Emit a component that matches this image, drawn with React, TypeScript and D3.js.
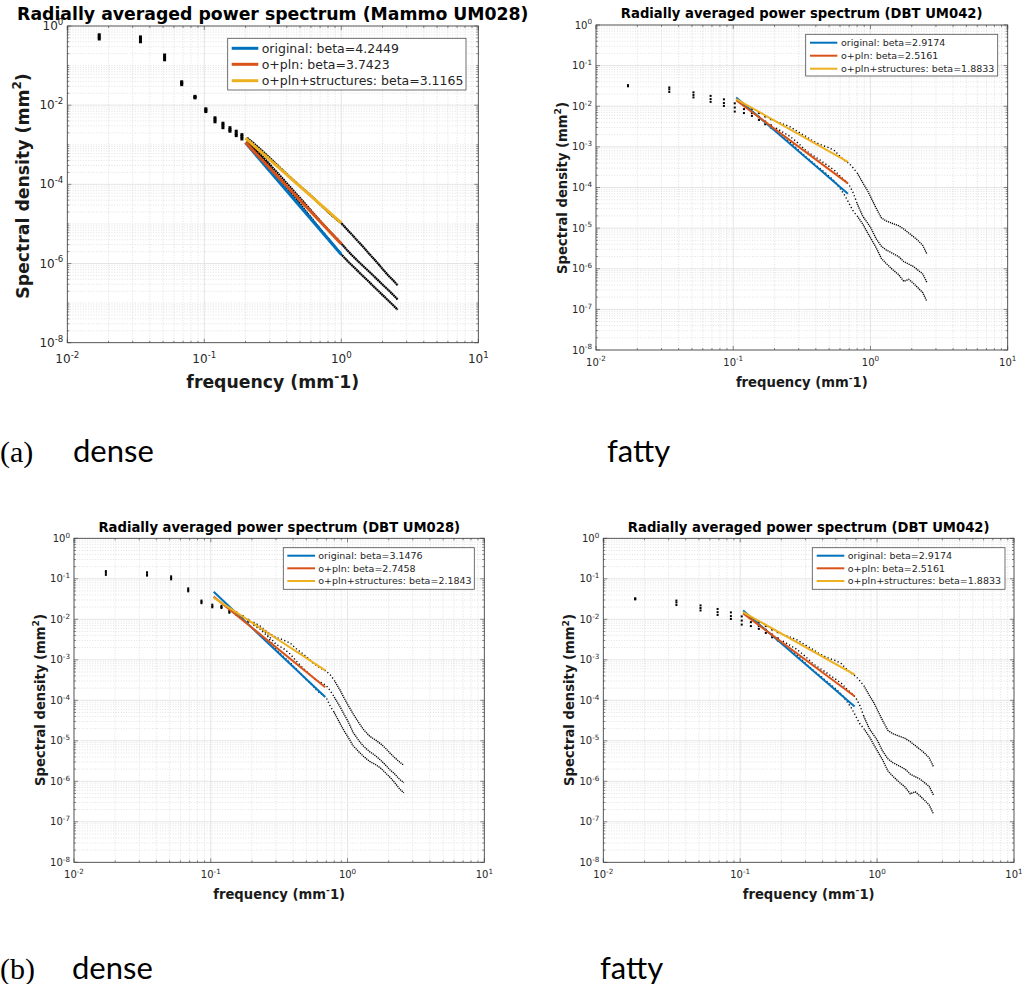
import React from 'react';
import * as d3 from 'd3';

// ---------- DATA ----------
const FREQ = [0.0171, 0.0342, 0.0513, 0.0684, 0.0855, 0.1026, 0.1197, 0.1368, 0.1539, 0.171, 0.1881, 0.2052,
  0.23, 0.26, 0.30, 0.34, 0.38, 0.42, 0.46, 0.50, 0.55, 0.60, 0.65, 0.70, 0.75, 0.80, 0.88, 0.95, 1.0,
  1.1, 1.2, 1.3, 1.45, 1.6, 1.75, 1.9, 2.05, 2.2, 2.4, 2.58];

// Mammo UM028
const MAMMO028_ORIG = [0.47, 0.40, 0.14, 0.033, 0.0153, 0.0069, 0.0038, 0.0027, 0.0022, 0.0017, 0.0014, 0.00115,
  7.8e-4, 4.9e-4, 2.8e-4, 1.65e-4, 1.02e-4, 6.6e-5, 4.5e-5, 3.2e-5, 2.1e-5, 1.45e-5, 1.02e-5, 7.5e-6, 5.6e-6, 4.3e-6, 2.9e-6, 2.1e-6, 1.7e-6,
  1.2e-6, 8.9e-7, 6.8e-7, 4.7e-7, 3.4e-7, 2.5e-7, 1.9e-7, 1.48e-7, 1.17e-7, 8.7e-8, 6.8e-8];
const MAMMO028_PLN = [0.53, 0.46, 0.16, 0.036, 0.016, 0.0075, 0.0043, 0.0031, 0.0024, 0.0019, 0.0016, 0.00125,
  8.5e-4, 5.5e-4, 3.2e-4, 2.0e-4, 1.3e-4, 8.8e-5, 6.2e-5, 4.5e-5, 3.1e-5, 2.2e-5, 1.6e-5, 1.2e-5, 9.2e-6, 7.2e-6, 5.1e-6, 3.9e-6, 3.2e-6,
  2.2e-6, 1.6e-6, 1.22e-6, 8.5e-7, 6.2e-7, 4.6e-7, 3.5e-7, 2.7e-7, 2.15e-7, 1.6e-7, 1.23e-7];
const MAMMO028_STRUCT = [0.60, 0.53, 0.185, 0.039, 0.0167, 0.0081, 0.0048, 0.0035, 0.0027, 0.0022, 0.0018, 0.0015,
  1.08e-3, 7.4e-4, 4.7e-4, 3.1e-4, 2.15e-4, 1.55e-4, 1.17e-4, 9.0e-5, 6.8e-5, 5.2e-5, 4.0e-5, 3.1e-5, 2.5e-5, 2.0e-5, 1.5e-5, 1.2e-5, 1.05e-5,
  7.3e-6, 5.3e-6, 3.9e-6, 2.6e-6, 1.75e-6, 1.25e-6, 9.0e-7, 6.6e-7, 5.0e-7, 3.7e-7, 2.8e-7];
const MAMMO028_FIT_F = [0.2, 1.0];
const MAMMO028_FIT_ORIG = [1.12e-3, 1.7e-6];
const MAMMO028_FIT_PLN = [1.15e-3, 3.13e-6];
const MAMMO028_FIT_STRUCT = [1.47e-3, 1.06e-5];
const MAMMO028_BETA = ['4.2449', '3.7423', '3.1165'];

// DBT UM042
const DBT042_ORIG = [0.031, 0.0225, 0.0165, 0.0128, 0.0102, 0.0074, 0.0068, 0.0058, 0.0046, 0.0036, 0.0030, 0.0025,
  0.0019, 0.0013, 8.2e-4, 5.6e-4, 4.1e-4, 3.1e-4, 2.4e-4, 1.9e-4, 1.4e-4, 9.5e-5, 6.4e-5, 4.0e-5, 2.6e-5, 2.0e-5, 1.25e-5, 7.8e-6, 5.8e-6,
  3.3e-6, 1.8e-6, 1.35e-6, 9.5e-7, 7.2e-7, 4.9e-7, 5.5e-7, 4.4e-7, 3.5e-7, 2.6e-7, 1.57e-7];
const DBT042_PLN = [0.032, 0.026, 0.019, 0.015, 0.012, 0.0093, 0.0085, 0.0068, 0.0055, 0.0042, 0.0034, 0.0029,
  0.0023, 0.0018, 0.0012, 8.0e-4, 6.2e-4, 5.0e-4, 4.0e-4, 3.3e-4, 2.6e-4, 1.9e-4, 1.5e-4, 1.15e-4, 7.3e-5, 4.0e-5, 1.95e-5, 1.35e-5, 1.05e-5,
  5.5e-6, 3.6e-6, 2.9e-6, 2.4e-6, 2.0e-6, 1.5e-6, 1.3e-6, 1.14e-6, 9.5e-7, 7.5e-7, 4.6e-7];
const DBT042_STRUCT = [0.033, 0.029, 0.022, 0.018, 0.0148, 0.0118, 0.0105, 0.0085, 0.0068, 0.0056, 0.0048, 0.0042,
  0.0037, 0.0031, 0.0023, 0.0018, 0.0014, 0.00118, 0.00105, 9.5e-4, 8.0e-4, 5.8e-4, 4.6e-4, 3.9e-4, 3.0e-4, 2.3e-4, 1.3e-4, 8.5e-5, 6.0e-5,
  3.1e-5, 1.8e-5, 1.5e-5, 1.3e-5, 1.15e-5, 9.5e-6, 7.6e-6, 6.2e-6, 5.1e-6, 3.8e-6, 2.3e-6];
const DBT042_FIT_F = [0.105, 0.685];
const DBT042_FIT_ORIG = [0.0165, 7.0e-5];
const DBT042_FIT_PLN = [0.014, 1.26e-4];
const DBT042_FIT_STRUCT = [0.015, 4.3e-4];
const DBT042_BETA = ['2.9174', '2.5161', '1.8833'];

// DBT UM028
const DBT028_ORIG = [0.125, 0.12, 0.097, 0.049, 0.025, 0.0198, 0.019, 0.0145, 0.013, 0.011, 0.0087, 0.0072,
  0.0057, 0.0038, 0.0018, 0.0012, 8.5e-4, 6.0e-4, 4.3e-4, 3.2e-4, 2.4e-4, 1.7e-4, 1.4e-4, 1.15e-4, 7.0e-5, 5.0e-5, 2.7e-5, 1.7e-5, 1.3e-5,
  7.5e-6, 5.5e-6, 4.2e-6, 3.1e-6, 2.6e-6, 2.1e-6, 1.6e-6, 1.25e-6, 9.5e-7, 6.5e-7, 5.2e-7];
const DBT028_PLN = [0.14, 0.13, 0.105, 0.053, 0.027, 0.021, 0.020, 0.0155, 0.014, 0.0115, 0.0092, 0.0078,
  0.0062, 0.0042, 0.0024, 0.0019, 0.0014, 9.5e-4, 6.8e-4, 5.2e-4, 3.9e-4, 3.0e-4, 2.7e-4, 2.3e-4, 1.7e-4, 1.2e-4, 7.0e-5, 4.3e-5, 3.2e-5,
  1.6e-5, 1.05e-5, 7.5e-6, 5.4e-6, 4.3e-6, 3.3e-6, 2.5e-6, 1.9e-6, 1.55e-6, 1.12e-6, 9.3e-7];
const DBT028_STRUCT = [0.155, 0.145, 0.115, 0.058, 0.029, 0.023, 0.0215, 0.0165, 0.0148, 0.012, 0.0097, 0.0085,
  0.0068, 0.0048, 0.0036, 0.0031, 0.0026, 0.0019, 0.0015, 0.0012, 8.8e-4, 7.0e-4, 6.0e-4, 5.2e-4, 4.2e-4, 3.1e-4, 1.8e-4, 1.1e-4, 8.0e-5,
  4.6e-5, 2.9e-5, 1.95e-5, 1.3e-5, 1.05e-5, 8.4e-6, 6.5e-6, 4.9e-6, 3.9e-6, 3.0e-6, 2.5e-6];
const DBT028_FIT_F = [0.105, 0.687];
const DBT028_FIT_ORIG = [0.048, 1.2e-4];
const DBT028_FIT_PLN = [0.0363, 2.1e-4];
const DBT028_FIT_STRUCT = [0.0343, 5.5e-4];
const DBT028_BETA = ['3.1476', '2.7458', '2.1843'];

const SERIES_NAMES = ['original', 'o+pln', 'o+pln+structures'];
const SERIES_COLORS = ['#0072BD', '#D95319', '#EDB120'];
const X_TICKS = [1e-2, 1e-1, 1e0, 1e1];
const Y_TICKS_EVEN = [1e0, 1e-2, 1e-4, 1e-6, 1e-8];
const Y_TICKS_ALL = [1e0, 1e-1, 1e-2, 1e-3, 1e-4, 1e-5, 1e-6, 1e-7, 1e-8];

const FONT = '"DejaVu Sans", Verdana, sans-serif';

type Legend = { x0: number; x1: number; y0: number; y1: number; lx0: number; lx1: number; rows: number[]; tx: number; fs: number; lw: number };
type PanelCfg = {
  left: number; right: number; top: number; bottom: number;
  title: string; titleX: number; titleY: number; titleFs: number;
  xLabelY: number; yLabelX: number; yLabelY: number;
  tickFs: number; xTickDy: number; yTickDy: number; yTicks: number[];
  legend: Legend; fitLw: number; marker: number; dotW: number; sparseDash: string; denseDash: string;
  series: number[][]; fitF: number[]; fits: number[][]; betas: string[];
};

function PowLabel({ x, y, exp, fs, anchor }: { x: number; y: number; exp: number; fs: number; anchor: string }) {
  const sup = fs * 0.72;
  return (
    <text x={x} y={y} fontSize={fs} textAnchor={anchor} fill="#262626" fontFamily={FONT}>
      10<tspan dy={-fs * 0.42} fontSize={sup}>{String(exp)}</tspan>
    </text>
  );
}

function Panel({ c }: { c: PanelCfg }) {
  const x = d3.scaleLog().domain([1e-2, 1e1]).range([c.left, c.right]);
  const y = d3.scaleLog().domain([1e-8, 1e0]).range([c.bottom, c.top]);
  const xMinor: number[] = [];
  for (let e = -2; e < 1; e++) for (let k = 2; k < 10; k++) xMinor.push(k * Math.pow(10, e));
  const yMinor: number[] = [];
  for (let e = -8; e < 0; e++) for (let k = 1; k < 10; k++) {
    const v = k * Math.pow(10, e);
    if (!c.yTicks.some(t => Math.abs(Math.log10(t) - Math.log10(v)) < 1e-6)) yMinor.push(v);
  }
  const yMinorTick: number[] = yMinor;
  const line = d3.line<number[]>().x(d => x(d[0])).y(d => y(d[1]));
  const axisColor = '#3a3a3a';
  const majLen = 4, minLen = 2;
  const lab = '#1a1a1a';
  const sup = c.titleFs * 0.7;

  return (
    <g>
      {/* minor grid */}
      {xMinor.map((v, i) => (
        <line key={'gxm' + i} x1={x(v)} x2={x(v)} y1={c.top} y2={c.bottom} stroke="#cfcfcf" strokeWidth={0.6} strokeDasharray="1 1.6" />
      ))}
      {yMinor.map((v, i) => (
        <line key={'gym' + i} x1={c.left} x2={c.right} y1={y(v)} y2={y(v)} stroke="#cfcfcf" strokeWidth={0.6} strokeDasharray="1 1.6" />
      ))}
      {/* major grid */}
      {X_TICKS.map((v, i) => (
        <line key={'gx' + i} x1={x(v)} x2={x(v)} y1={c.top} y2={c.bottom} stroke="#e2e2e2" strokeWidth={0.9} />
      ))}
      {c.yTicks.map((v, i) => (
        <line key={'gy' + i} x1={c.left} x2={c.right} y1={y(v)} y2={y(v)} stroke="#e2e2e2" strokeWidth={0.9} />
      ))}
      {/* ticks */}
      {X_TICKS.map((v, i) => (
        <g key={'tx' + i}>
          <line x1={x(v)} x2={x(v)} y1={c.bottom} y2={c.bottom - majLen} stroke={axisColor} strokeWidth={0.6} />
          <line x1={x(v)} x2={x(v)} y1={c.top} y2={c.top + majLen} stroke={axisColor} strokeWidth={0.6} />
        </g>
      ))}
      {xMinor.map((v, i) => (
        <g key={'txm' + i}>
          <line x1={x(v)} x2={x(v)} y1={c.bottom} y2={c.bottom - minLen} stroke={axisColor} strokeWidth={0.6} />
          <line x1={x(v)} x2={x(v)} y1={c.top} y2={c.top + minLen} stroke={axisColor} strokeWidth={0.6} />
        </g>
      ))}
      {c.yTicks.map((v, i) => (
        <g key={'ty' + i}>
          <line x1={c.left} x2={c.left + majLen} y1={y(v)} y2={y(v)} stroke={axisColor} strokeWidth={0.6} />
          <line x1={c.right} x2={c.right - majLen} y1={y(v)} y2={y(v)} stroke={axisColor} strokeWidth={0.6} />
        </g>
      ))}
      {yMinorTick.map((v, i) => (
        <g key={'tym' + i}>
          <line x1={c.left} x2={c.left + minLen} y1={y(v)} y2={y(v)} stroke={axisColor} strokeWidth={0.6} />
          <line x1={c.right} x2={c.right - minLen} y1={y(v)} y2={y(v)} stroke={axisColor} strokeWidth={0.6} />
        </g>
      ))}
      {/* box */}
      <rect x={c.left} y={c.top} width={c.right - c.left} height={c.bottom - c.top} fill="none" stroke={axisColor} strokeWidth={0.8} />
      {/* tick labels */}
      {X_TICKS.map((v, i) => (
        <PowLabel key={'lx' + i} x={x(v)} y={c.bottom + c.xTickDy} exp={Math.round(Math.log10(v))} fs={c.tickFs} anchor="middle" />
      ))}
      {c.yTicks.map((v, i) => (
        <PowLabel key={'ly' + i} x={c.left - 4} y={y(v) + c.yTickDy} exp={Math.round(Math.log10(v))} fs={c.tickFs} anchor="end" />
      ))}
      {/* data */}
      {c.series.map((s, si) => {
        const pts = FREQ.map((f, i) => [f, s[i]]);
        const low = pts.filter(p => p[0] < 0.2);
        const sparse = pts.filter(p => p[0] >= 0.2 && p[0] <= 0.8);
        const dense = pts.filter(p => p[0] >= 0.8);
        return (
          <g key={'s' + si}>
            {low.map((p, i) => (
              <rect key={i} x={x(p[0]) - c.marker / 2} y={y(p[1]) - c.marker / 2} width={c.marker} height={c.marker} fill="#000" />
            ))}
            <path d={line(sparse) || ''} fill="none" stroke="#000" strokeWidth={c.dotW} strokeDasharray={c.sparseDash} />
            <path d={line(dense) || ''} fill="none" stroke="#000" strokeWidth={c.dotW} strokeDasharray={c.denseDash} />
          </g>
        );
      })}
      {/* fits */}
      {c.fits.map((s, si) => (
        <path key={'f' + si} d={line(c.fitF.map((f, i) => [f, s[i]])) || ''} fill="none" stroke={SERIES_COLORS[si]} strokeWidth={c.fitLw} />
      ))}
      {/* legend */}
      <rect x={c.legend.x0} y={c.legend.y0} width={c.legend.x1 - c.legend.x0} height={c.legend.y1 - c.legend.y0} fill="#fff" stroke="#4d4d4d" strokeWidth={0.8} />
      {SERIES_NAMES.map((n, i) => (
        <g key={'lg' + i}>
          <line x1={c.legend.lx0} x2={c.legend.lx1} y1={c.legend.rows[i]} y2={c.legend.rows[i]} stroke={SERIES_COLORS[i]} strokeWidth={c.legend.lw} />
          <text x={c.legend.tx} y={c.legend.rows[i] + c.legend.fs * 0.36} fontSize={c.legend.fs} fontFamily={FONT} fill="#262626">
            {`${n}: beta=${c.betas[i]}`}
          </text>
        </g>
      ))}
      {/* title */}
      <text x={c.titleX} y={c.titleY} fontSize={c.titleFs} fontWeight="bold" textAnchor="middle" fontFamily={FONT} fill="#000">{c.title}</text>
      {/* x label */}
      <text x={(c.left + c.right) / 2} y={c.xLabelY} fontSize={c.titleFs} fontWeight="bold" textAnchor="middle" fontFamily={FONT} fill={lab}>
        frequency (mm<tspan dy={-c.titleFs * 0.42} fontSize={sup}>-</tspan><tspan dy={c.titleFs * 0.42}>1)</tspan>
      </text>
      {/* y label */}
      <text transform={`translate(${c.yLabelX},${c.yLabelY}) rotate(-90)`} fontSize={c.titleFs} fontWeight="bold" textAnchor="middle" fontFamily={FONT} fill={lab}>
        Spectral density (mm<tspan dy={-c.titleFs * 0.42} fontSize={sup}>2</tspan><tspan dy={c.titleFs * 0.42}>)</tspan>
      </text>
    </g>
  );
}

export default function App() {
  const small = { tickFs: 10, yTickDy: 3.5, yTicks: Y_TICKS_ALL, fitLw: 2, marker: 2, dotW: 1.4, sparseDash: '1.2 2.4', denseDash: '1.2 0.9', titleFs: 13.2 };
  const A: PanelCfg = {
    left: 67.3, right: 478.3, top: 26, bottom: 342.7,
    title: 'Radially averaged power spectrum (Mammo UM028)', titleX: 272.8, titleY: 20, titleFs: 17.3,
    xLabelY: 388.3, yLabelX: 28.5, yLabelY: 186,
    tickFs: 12, xTickDy: 20.3, yTickDy: 4, yTicks: Y_TICKS_EVEN,
    legend: { x0: 227.7, x1: 466, y0: 38.3, y1: 90, lx0: 231.7, lx1: 258.3, rows: [48.3, 64.3, 80.7], tx: 261.7, fs: 12.5, lw: 3 },
    fitLw: 3, marker: 3, dotW: 2.2, sparseDash: '1.8 0.6', denseDash: '1.8 0.4',
    series: [MAMMO028_ORIG, MAMMO028_PLN, MAMMO028_STRUCT], fitF: MAMMO028_FIT_F,
    fits: [MAMMO028_FIT_ORIG, MAMMO028_FIT_PLN, MAMMO028_FIT_STRUCT], betas: MAMMO028_BETA,
  };
  const B: PanelCfg = {
    ...small,
    left: 596, right: 1007.7, top: 25, bottom: 350,
    title: 'Radially averaged power spectrum (DBT UM042)', titleX: 801.7, titleY: 18.3,
    xLabelY: 386.5, yLabelX: 566.7, yLabelY: 188, xTickDy: 15.5,
    legend: { x0: 805.7, x1: 997.7, y0: 34.3, y1: 76, lx0: 810, lx1: 837.3, rows: [42.7, 55.7, 68.7], tx: 841, fs: 9.5, lw: 2 },
    series: [DBT042_ORIG, DBT042_PLN, DBT042_STRUCT], fitF: DBT042_FIT_F,
    fits: [DBT042_FIT_ORIG, DBT042_FIT_PLN, DBT042_FIT_STRUCT], betas: DBT042_BETA,
  } as PanelCfg;
  const C: PanelCfg = {
    ...small,
    left: 74, right: 484.3, top: 538.3, bottom: 862.3,
    title: 'Radially averaged power spectrum (DBT UM028)', titleX: 279.3, titleY: 531.7,
    xLabelY: 899, yLabelX: 45, yLabelY: 700, xTickDy: 16,
    legend: { x0: 283.3, x1: 474.3, y0: 547.7, y1: 589.3, lx0: 287.3, lx1: 315, rows: [555.7, 568.3, 581], tx: 318.3, fs: 9.5, lw: 2 },
    series: [DBT028_ORIG, DBT028_PLN, DBT028_STRUCT], fitF: DBT028_FIT_F,
    fits: [DBT028_FIT_ORIG, DBT028_FIT_PLN, DBT028_FIT_STRUCT], betas: DBT028_BETA,
  } as PanelCfg;
  const D: PanelCfg = {
    ...small,
    left: 603.3, right: 1014, top: 538.3, bottom: 862.3,
    title: 'Radially averaged power spectrum (DBT UM042)', titleX: 808.7, titleY: 531.7,
    xLabelY: 899, yLabelX: 574.3, yLabelY: 700, xTickDy: 16,
    legend: { x0: 812.3, x1: 1005, y0: 547.7, y1: 589.3, lx0: 816.7, lx1: 844.3, rows: [555.7, 568.3, 581], tx: 847.7, fs: 9.5, lw: 2 },
    series: [DBT042_ORIG, DBT042_PLN, DBT042_STRUCT], fitF: DBT042_FIT_F,
    fits: [DBT042_FIT_ORIG, DBT042_FIT_PLN, DBT042_FIT_STRUCT], betas: DBT042_BETA,
  } as PanelCfg;

  const capSerif = '"Liberation Serif", "Times New Roman", serif';
  const capSans = 'Lato, "Open Sans", sans-serif';
  return (
    <svg width={1022} height={984} style={{ position: 'absolute', left: 0, top: 0, background: '#fff' }}>
      <rect x={0} y={0} width={1022} height={984} fill="#fff" />
      <Panel c={A} />
      <Panel c={B} />
      <Panel c={C} />
      <Panel c={D} />
      <text x={0} y={462} fontSize={30} fontFamily={capSerif} fill="#000">(a)</text>
      <text x={73} y={462} fontSize={31} fontFamily={capSans} fill="#000">dense</text>
      <text x={607} y={462} fontSize={31} fontFamily={capSans} fill="#000">fatty</text>
      <text x={0} y={979} fontSize={30} fontFamily={capSerif} fill="#000">(b)</text>
      <text x={72} y={979} fontSize={31} fontFamily={capSans} fill="#000">dense</text>
      <text x={600} y={979} fontSize={31} fontFamily={capSans} fill="#000">fatty</text>
    </svg>
  );
}
